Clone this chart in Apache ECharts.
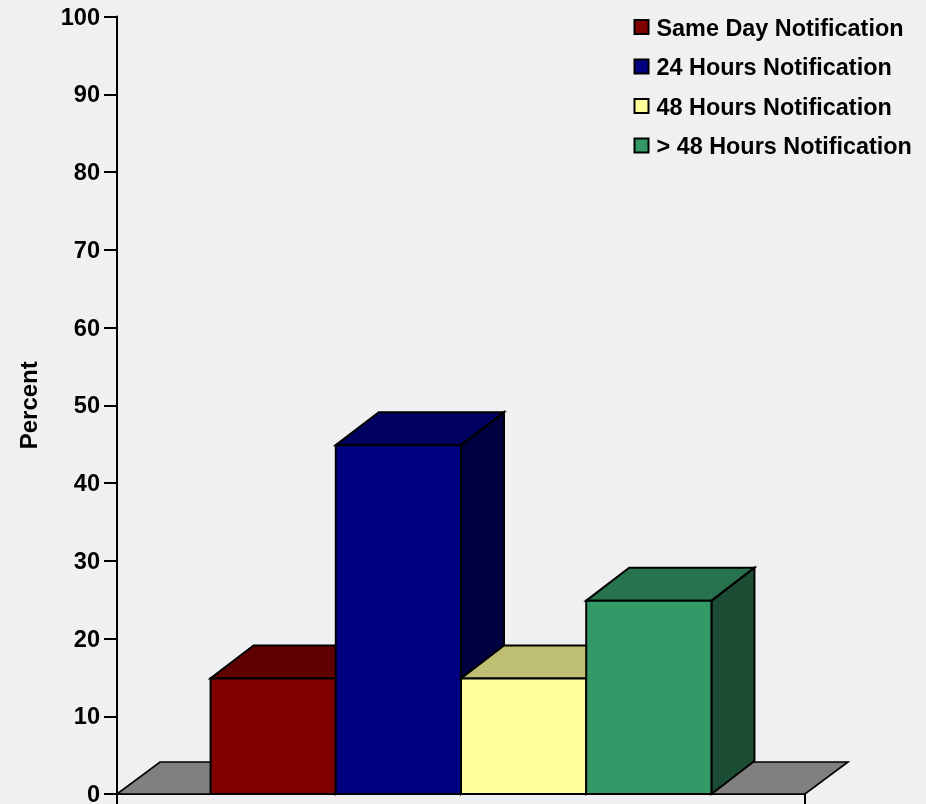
<!DOCTYPE html>
<html>
<head>
<meta charset="utf-8">
<style>
  html, body { margin: 0; padding: 0; background: #f0f0f3; }
  #chart { width: 926px; height: 804px; }
</style>
<script src="https://cdn.jsdelivr.net/npm/echarts@6/dist/echarts.min.js"></script>
</head>
<body>
<div id="chart"></div>
<script>
// Notification timing shares, in percent
const notificationTypes = ['Same Day Notification', '24 Hours Notification', '48 Hours Notification', '> 48 Hours Notification'];
const percentValues = [15, 45, 15, 25];
const frontColors = ['#800000', '#000080', '#ffff99', '#339966'];
const topColors = ['#600000', '#000060', '#bfbf73', '#26734d'];
const sideColors = ['#400000', '#000040', '#808066', '#1a4d33'];
const yTicks = [0, 10, 20, 30, 40, 50, 60, 70, 80, 90, 100];
const xCategories = [''];

const fontFamily = '"Liberation Sans", Arial, sans-serif';
const barShare = 0.182;     // bar width as a share of the category band
const depthXShare = 0.0625; // oblique depth, horizontal, as a share of the band
const floorDepthY = 32;     // floor depth, vertical, in pixels
const boxDepthY = 33;       // box depth, vertical, in pixels
const boxTopDrop = 1;       // the outlined box top sits just under its scale position

function face(points, fill, lineWidth) {
  return {
    type: 'polygon',
    shape: { points: points },
    style: { fill: fill, stroke: '#000', lineWidth: lineWidth, lineJoin: 'miter' }
  };
}

// Shaded floor running under the whole category band
function renderFloor(params, api) {
  const band = api.size([1, 0])[0];
  const c = api.coord([0, 0]);
  const l = c[0] - band / 2, r = c[0] + band / 2, y = c[1];
  const dx = band * depthXShare;
  return face([[l, y], [l + dx, y - floorDepthY], [r + dx, y - floorDepthY], [r, y]], '#808080', 1.6);
}

// One oblique box: side and top faces first, then the front face
function renderBox(index) {
  return function (params, api) {
    const band = api.size([1, 0])[0];
    const w = band * barShare;
    const base = api.coord([0, 0]);
    const topY = api.coord([0, api.value(1)])[1] + boxTopDrop;
    const l = base[0] + (index - notificationTypes.length / 2) * w;
    const r = l + w;
    const dx = band * depthXShare;
    return {
      type: 'group',
      children: [
        face([[r, topY], [r + dx, topY - boxDepthY], [r + dx, base[1] - boxDepthY], [r, base[1]]], sideColors[index], 2),
        face([[l, topY], [l + dx, topY - boxDepthY], [r + dx, topY - boxDepthY], [r, topY]], topColors[index], 2),
        face([[l, topY], [r, topY], [r, base[1]], [l, base[1]]], frontColors[index], 2)
      ]
    };
  };
}

const floorSeries = {
  type: 'custom',
  name: 'floor',
  coordinateSystem: 'cartesian2d',
  clip: false,
  silent: true,
  renderItem: renderFloor,
  data: [[0, 0]]
};

const boxSeries = notificationTypes.map(function (name, i) {
  return {
    type: 'custom',
    name: name,
    coordinateSystem: 'cartesian2d',
    clip: false,
    silent: true,
    itemStyle: { color: frontColors[i] },
    renderItem: renderBox(i),
    encode: { x: 0, y: 1 },
    data: [[0, percentValues[i]]]
  };
});

const chart = echarts.init(document.getElementById('chart'), null, { renderer: 'canvas' });
chart.setOption({
  animation: false,
  backgroundColor: '#f0f0f3',
  grid: { left: 117, top: 16.5, width: 688, height: 777.5, containLabel: false, outerBoundsMode: 'none' },
  legend: {
    data: notificationTypes,
    orient: 'vertical',
    left: 633.5,
    top: 18,
    padding: 0,
    icon: 'rect',
    itemWidth: 14,
    itemHeight: 14,
    itemGap: 16.5,
    selectedMode: false,
    itemStyle: { borderColor: '#000', borderWidth: 2 },
    formatter: function (name) { return '{t|' + name + '}'; },
    textStyle: {
      color: '#000',
      rich: {
        t: { color: '#000', fontFamily: fontFamily, fontWeight: 'bold', fontSize: 23.4, padding: [5, 0, 0, 3] }
      }
    }
  },
  xAxis: {
    type: 'category',
    data: xCategories,
    boundaryGap: true,
    axisLine: { lineStyle: { color: '#000', width: 2 } },
    axisTick: { show: true, alignWithLabel: false, length: 12, lineStyle: { color: '#000', width: 2 } },
    axisLabel: { show: false },
    splitLine: { show: false }
  },
  yAxis: {
    type: 'value',
    min: yTicks[0],
    max: yTicks[yTicks.length - 1],
    interval: 10,
    name: 'Percent',
    nameLocation: 'middle',
    nameGap: 75,
    nameRotate: 90,
    nameTextStyle: { color: '#000', fontFamily: fontFamily, fontWeight: 'bold', fontSize: 24 },
    axisLine: { show: true, lineStyle: { color: '#000', width: 2 } },
    axisTick: { show: true, length: 13, lineStyle: { color: '#000', width: 2 } },
    axisLabel: { color: '#000', fontFamily: fontFamily, fontWeight: 'bold', fontSize: 23.6, margin: 17, verticalAlign: 'top', lineHeight: 3 },
    splitLine: { show: false }
  },
  series: [floorSeries].concat(boxSeries)
});
</script>
</body>
</html>
